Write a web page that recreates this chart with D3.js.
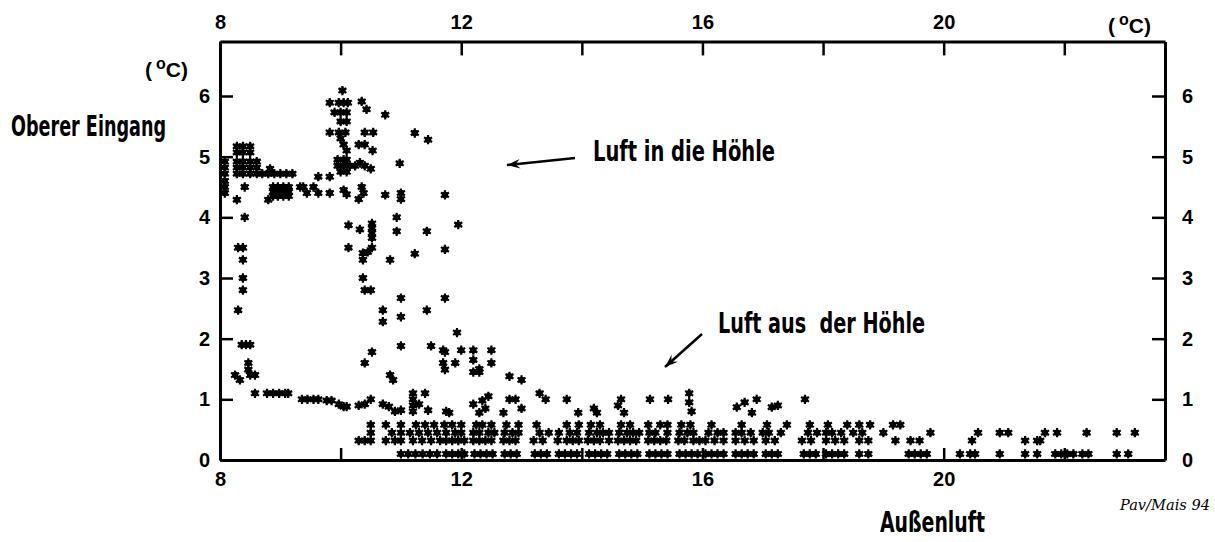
<!DOCTYPE html>
<html><head><meta charset="utf-8">
<script src="https://cdn.jsdelivr.net/npm/d3@7"></script>
<style>body{margin:0;background:#fff}svg{display:block}</style>
</head><body>
<svg id="c" width="1215" height="542"></svg>
<script>
// ---- axis ticks ----
const xTickValues = [8, 10, 12, 14, 16, 18, 20, 22];
const xLabelValues = [8, 12, 16, 20];
const yTickValues = [0, 1, 2, 3, 4, 5, 6];

// ---- data: [Außenluft °C, Oberer Eingang °C] ----
const warmCluster = [
 [8.28,5.17],[8.38,5.17],[8.5,5.17],[8.28,5.07],[8.38,5.07],[8.5,5.07],
 [8.08,4.92],[8.28,4.92],[8.38,4.92],[8.5,4.92],[8.61,4.92],
 [8.08,4.82],[8.28,4.82],[8.38,4.82],[8.5,4.82],[8.61,4.82],
 [8.08,4.72],[8.28,4.72],[8.38,4.72],[8.5,4.72],[8.61,4.72],[8.7,4.72],
 [8.08,4.6],[8.08,4.5],[8.41,4.5],[8.08,4.4],[8.28,4.29],[8.41,4.0],
 [8.83,4.8],[8.8,4.72],[8.9,4.72],[9.0,4.72],[9.1,4.72],[9.2,4.72],
 [8.88,4.5],[8.96,4.5],[9.05,4.5],[9.14,4.5],[8.88,4.42],[8.96,4.42],[9.05,4.42],[9.14,4.42],
 [8.88,4.35],[8.96,4.35],[9.05,4.35],[9.14,4.35],[8.8,4.29],
 [9.33,4.5],[9.38,4.5],[9.44,4.4],[9.55,4.5],[9.63,4.4],[9.63,4.67],[9.82,4.67],[9.82,4.4],
 [10.03,6.09],[9.82,5.89],[9.97,5.89],[10.05,5.89],[10.12,5.89],[9.9,5.73],[10.0,5.73],[10.1,5.73],
 [10.0,5.58],[10.1,5.58],[9.82,5.4],[9.97,5.4],[10.08,5.4],[10.0,5.3],[10.05,5.2],[10.1,5.1],
 [9.95,4.95],[10.05,4.95],[10.1,4.95],[9.95,4.85],[10.05,4.85],[10.15,4.85],[10.24,4.85],
 [10.0,4.75],[10.1,4.75],[10.05,4.45],[10.1,4.38],
 [10.35,5.91],[10.43,5.78],[10.4,5.4],[10.54,5.4],[10.3,5.2],[10.4,5.2],[10.53,5.1],
 [10.32,4.9],[10.4,4.85],[10.5,4.8],[10.35,4.5],[10.38,4.4],[10.3,4.3],
 [10.74,5.69],[10.74,4.37],[10.98,4.89],[11.0,4.4],[11.0,4.3],[11.73,4.37],[11.23,5.39],[11.45,5.28]
];
const fallCluster = [
 [8.3,3.5],[8.38,3.5],[8.38,3.3],[8.38,3.0],[8.38,2.8],[8.3,2.47],
 [8.36,1.9],[8.43,1.9],[8.5,1.9],[8.47,1.6],[8.47,1.49],[8.25,1.4],[8.5,1.4],[8.58,1.4],[8.33,1.32],
 [10.13,3.87],[10.32,3.8],[10.52,3.9],[10.52,3.82],[10.52,3.74],[10.52,3.66],[10.93,4.0],[10.93,3.77],
 [11.43,3.77],[11.95,3.88],[10.13,3.5],[10.37,3.41],[10.45,3.43],[10.52,3.5],[10.82,3.3],[11.23,3.4],
 [11.73,3.47],[10.37,3.3],[10.37,3.0],[10.4,2.8],[10.5,2.8],
 [10.7,2.47],[10.7,2.28],[11.0,2.67],[11.0,2.36],[11.43,2.47],[11.73,2.67],
 [10.52,1.78],[10.4,1.6],[11.0,1.88],[11.5,1.88],[11.73,1.78],[11.73,1.49],[10.82,1.4],[10.87,1.32],
 [11.93,2.1],[11.7,1.81],[12.0,1.81],[12.2,1.81],[12.5,1.81],[11.7,1.6],[11.9,1.6],[12.2,1.65],
 [12.3,1.5],[12.5,1.6],[12.2,1.45],[12.3,1.45],[12.8,1.38],[13.0,1.32]
];
const nearOne = [
 [8.58,1.1],[8.78,1.1],[8.88,1.1],[8.98,1.1],[9.08,1.1],[9.13,1.1],
 [9.36,1.0],[9.45,1.0],[9.55,1.0],[9.63,1.0],[9.77,0.98],[9.85,0.98],[9.97,0.92],[10.05,0.88],[10.1,0.88],
 [10.3,0.9],[10.4,0.92],[10.5,1.0],[10.7,0.92],[10.8,0.88],[10.9,0.8],[11.0,0.82],
 [11.2,1.1],[11.2,1.0],[11.2,0.9],[11.2,0.8],[11.3,0.92],[11.4,1.1],[11.45,0.82],[11.75,0.8],[11.8,0.78],
 [12.2,0.92],[12.35,0.98],[12.45,1.05],[12.4,0.85],[12.3,0.78],[12.8,1.0],[12.9,1.0],[13.0,0.85],[12.7,0.78],
 [13.3,1.1],[13.4,1.0],[13.75,1.0],[13.94,0.78],[14.2,0.85],[14.25,0.78],[14.65,1.0],[14.6,0.9],[14.7,0.78],
 [15.13,1.0],[15.43,1.0],[15.78,1.1],[15.78,0.95],[15.82,0.8],[16.57,0.87],[16.7,0.95],[16.82,0.78],
 [16.9,1.0],[17.15,0.87],[17.25,0.9],[17.7,1.0]
];
const bandTopX = [10.5,10.75,11.0,11.25,11.4,11.55,11.72,11.85,12.0,12.25,12.35,12.5,12.75,12.95,13.25,13.75,13.95,14.15,14.3,14.65,14.8,15.1,15.3,15.42,15.65,15.8,16.15,16.65,17.07,17.4,17.78,18.08,18.4,18.6,18.78,19.16,19.28];
const bandTopY = 0.58;
const bandMidX = [10.5,10.85,11.0,11.15,11.3,11.45,11.6,11.75,11.9,12.0,12.2,12.3,12.45,12.55,12.72,12.85,12.95,13.3,13.45,13.62,13.8,13.92,14.12,14.25,14.35,14.45,14.62,14.75,14.85,14.95,15.12,15.22,15.42,15.62,15.75,15.85,16.1,16.25,16.35,16.55,16.65,16.8,17.0,17.1,17.3,17.75,17.9,18.05,18.15,18.3,18.5,18.65,19.0,19.78,20.57,20.93,21.07,21.68,21.88,22.37,22.87,23.17];
const bandMidY = 0.45;
const bandLowX = [10.3,10.4,10.5,10.75,10.9,11.0,11.2,11.35,11.5,11.65,11.75,11.85,11.95,12.05,12.2,12.3,12.4,12.5,12.7,12.8,12.9,13.2,13.35,13.6,13.75,13.85,13.95,14.1,14.2,14.3,14.45,14.6,14.7,14.8,14.9,15.1,15.2,15.3,15.4,15.6,15.7,15.85,15.95,16.05,16.2,16.35,16.55,16.7,16.85,17.05,17.2,17.65,17.8,18.05,18.2,18.35,18.6,18.75,19.2,19.45,19.6,20.47,21.35,21.55,21.6];
const bandLowY = 0.32;
const baseX = [11.0,11.12,11.24,11.36,11.48,11.6,11.75,11.85,11.95,12.05,12.22,12.32,12.42,12.52,12.72,12.82,12.92,13.22,13.32,13.42,13.62,13.72,13.82,13.92,14.12,14.22,14.32,14.42,14.62,14.72,14.82,14.92,15.12,15.22,15.32,15.42,15.62,15.72,15.82,15.92,16.05,16.15,16.25,16.35,16.55,16.65,16.75,16.85,17.05,17.15,17.25,17.68,17.78,17.88,18.05,18.15,18.25,18.35,18.6,18.75,19.42,19.52,19.62,19.72,20.27,20.44,20.52,20.93,21.35,21.55,21.85,21.95,22.05,22.15,22.3,22.4,22.87,23.06];
const baseY = 0.1;

// ---- layout ----
const svg = d3.select("#c");
const x = d3.scaleLinear().domain([8, 23.67]).range([220, 1165]);
const y = d3.scaleLinear().domain([0, 6.9]).range([460, 41.4]);
const tickFont = "'Liberation Sans', Arial, sans-serif";
const condFont = "'Liberation Sans Narrow', 'DejaVu Sans Condensed', 'Liberation Sans', sans-serif";

const points = [].concat(
  warmCluster, fallCluster, nearOne,
  bandTopX.map(v => [v, bandTopY]),
  bandMidX.map(v => [v, bandMidY]),
  bandLowX.map(v => [v, bandLowY]),
  baseX.map(v => [v, baseY])
);

// points
const star = d3.symbol().type(d3.symbolAsterisk).size(60);
const g = svg.append("g");
g.selectAll("circle").data(points).join("circle")
  .attr("cx", d => x(d[0])).attr("cy", d => y(d[1])).attr("r", 3.2).attr("fill", "#000");
g.selectAll("path").data(points).join("path")
  .attr("d", star).attr("transform", d => `translate(${x(d[0])},${y(d[1])})`)
  .attr("fill", "none").attr("stroke", "#000").attr("stroke-width", 2.2);

function styleAxis(sel) {
  sel.select(".domain").attr("stroke-width", 3).attr("stroke", "#000");
  sel.selectAll(".tick line").attr("stroke-width", 2.5).attr("stroke", "#000");
  sel.selectAll(".tick text").attr("font-family", tickFont).attr("font-weight", "bold")
     .attr("font-size", 20).attr("fill", "#000");
}
const fmtX = d => (xLabelValues.includes(d) ? d : "");
svg.append("g").attr("transform", `translate(0,${y(0)})`)
  .call(d3.axisBottom(x).tickValues(xTickValues).tickFormat(fmtX).tickSize(-12).tickSizeOuter(0).tickPadding(12))
  .call(styleAxis);
svg.append("g").attr("transform", `translate(0,${y(6.9)})`)
  .call(d3.axisTop(x).tickValues(xTickValues).tickFormat(fmtX).tickSize(-14).tickSizeOuter(0).tickPadding(12))
  .call(styleAxis);
svg.append("g").attr("transform", `translate(${x(8)},0)`)
  .call(d3.axisLeft(y).tickValues(yTickValues).tickFormat(d3.format("d")).tickSize(-13).tickSizeOuter(0).tickPadding(10))
  .call(styleAxis);
svg.append("g").attr("transform", `translate(${x(23.67)},0)`)
  .call(d3.axisRight(y).tickValues(yTickValues).tickFormat(d3.format("d")).tickSize(-13).tickSizeOuter(0).tickPadding(17))
  .call(styleAxis);

// units
function unit(xp, yp) {
  const t = svg.append("text").attr("x", xp).attr("y", yp).attr("font-family", tickFont)
    .attr("font-size", 21).attr("font-weight", "bold");
  t.append("tspan").text("(");
  t.append("tspan").attr("dx", 4).attr("dy", -8).attr("font-size", 16).text("o");
  t.append("tspan").attr("dy", 8).text("C)");
}
unit(145, 77);
unit(1108, 33);

// labels
function label(txt, xp, yp, len, size) {
  svg.append("text").attr("x", xp).attr("y", yp).attr("font-family", condFont)
    .attr("font-weight", "bold").attr("font-size", size).style("white-space", "pre")
    .attr("textLength", len).attr("lengthAdjust", "spacingAndGlyphs").text(txt);
}
label("Oberer Eingang", 11, 136, 155, 29);
label("Luft in die Höhle", 593, 161, 182, 29);
label("Luft aus\u00a0\u00a0der Höhle", 718, 333, 207, 29);
label("Außenluft", 880, 532, 105, 28);
svg.append("text").attr("x", 1120).attr("y", 510).attr("font-family", "'DejaVu Serif', serif")
  .attr("font-style", "italic").attr("font-size", 15).attr("textLength", 90)
  .attr("lengthAdjust", "spacingAndGlyphs").text("Pav/Mais 94");

// arrows
function arrow(x1, y1, x2, y2) {
  svg.append("line").attr("x1", x1).attr("y1", y1).attr("x2", x2).attr("y2", y2)
    .attr("stroke", "#000").attr("stroke-width", 2.5);
  const a = Math.atan2(y2 - y1, x2 - x1), L = 14, w = 0.35;
  const p = [[x2, y2],
    [x2 - L * Math.cos(a - w), y2 - L * Math.sin(a - w)],
    [x2 - L * 0.6 * Math.cos(a), y2 - L * 0.6 * Math.sin(a)],
    [x2 - L * Math.cos(a + w), y2 - L * Math.sin(a + w)]];
  svg.append("polygon").attr("points", p.map(q => q.join(",")).join(" ")).attr("fill", "#000");
}
arrow(575, 158, 507, 165);
arrow(702, 334, 665, 367);
</script>
</body></html>
